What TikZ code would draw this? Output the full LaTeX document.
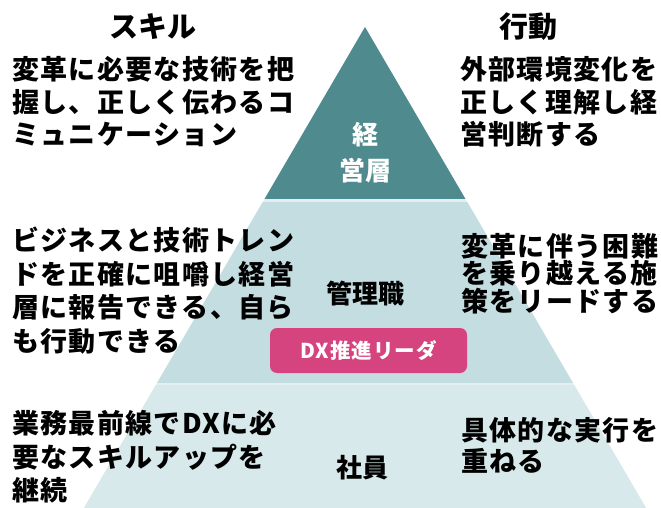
\documentclass[tikz,border=0pt]{standalone}
\usepackage{fontspec}
\newfontfamily\jp[LetterSpace=5]{Noto Sans CJK JP}
\newfontfamily\jpn{Noto Sans CJK JP}
\newfontfamily\jpdx[LetterSpace=5]{Noto Sans CJK JP}
\definecolor{topc}{HTML}{4E8A8E}
\definecolor{midc}{HTML}{C4DDE1}
\definecolor{botc}{HTML}{D7E9EA}
\definecolor{gapc}{HTML}{E3EFF0}
\definecolor{pinkc}{HTML}{D6447F}
\tikzset{
  body/.style={anchor=base west, inner sep=0pt, font=\jp\bfseries\fontsize{27}{30}\selectfont, text=black},
  head/.style={anchor=base, inner sep=0pt, font=\jpn\bfseries\fontsize{29}{32}\selectfont, text=black},
  lvl/.style={anchor=base, inner sep=0pt, font=\jpn\bfseries\fontsize{26}{30}\selectfont},
  pill/.style={fill=pinkc, rounded corners=7pt, minimum width=197pt, minimum height=45pt, inner sep=0pt,
    text=white, font=\jpdx\bfseries\fontsize{20.5}{24}\selectfont, text height=17.6pt, text depth=2pt}
}
\begin{document}
\begin{tikzpicture}[x=1pt,y=-1pt]
\useasboundingbox (0,0) rectangle (661,508);
\fill[white] (0,0) rectangle (661,508);
% pyramid
\coordinate (apex) at (365,27);
\coordinate (bl) at (84,508);
\coordinate (br) at (646,508);
\begin{scope}
  \clip (apex) -- (br) -- (bl) -- cycle;
  \fill[gapc] (0,0) rectangle (661,508);
  \fill[topc] (0,0) rectangle (661,199);
  \fill[midc] (0,202) rectangle (661,383);
  \fill[botc] (0,385) rectangle (661,508);
\end{scope}
% headings
\node[head] (hskill) at (153,38) {スキル};
\node[head] (hact) at (528,37.5) {行動};
% top-left
\foreach \t [count=\i] in {変革に必要な技術を把, 握し、正しく伝わるコ, ミュニケーション}
  \node[body] (sa\i) at (12, 47.5+32.5*\i) {\t};
% top-right
\foreach \t [count=\i] in {外部環境変化を, 正しく理解し経, 営判断する}
  \node[body] (ra\i) at (460, 47.5+32.5*\i) {\t};
% middle-left
\foreach \t [count=\i] in {ビジネスと技術トレン, ドを正確に咀嚼し経営, 層に報告できる、自ら, も行動できる}
  \node[body] (sb\i) at (12, 217+33.5*\i) {\t};
% middle-right
\foreach \t [count=\i] in {変革に伴う困難, を乗り越える施, 策をリードする}
  \node[body] (rb\i) at (461, 228.5+27.5*\i) {\t};
% bottom-left
\foreach \t [count=\i] in {業務最前線でDXに必, 要なスキルアップを, 継続}
  \node[body] (sc\i) at (12, 400+33.5*\i) {\t};
% bottom-right
\foreach \t [count=\i] in {具体的な実行を, 重ねる}
  \node[body] (rc\i) at (461, 409.5+31*\i) {\t};
% level labels
\node[lvl, text=white] (l1a) at (365,145) {経};
\node[lvl, text=white] (l1b) at (365,180) {営層};
\node[lvl, text=black] (l2) at (365,303) {管理職};
\node[lvl, text=black] (l3) at (362,477) {社員};
% DX pill
\node[pill] (dx) at (368.5,350.5) {DX推進リーダ};
\end{tikzpicture}
\end{document}
